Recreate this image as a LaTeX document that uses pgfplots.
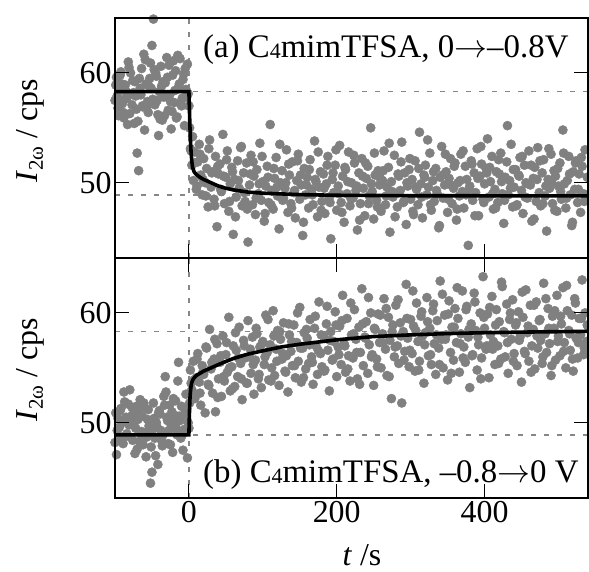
\RequirePackage{fix-cm}
\documentclass[border=0pt]{standalone}
\usepackage{pgfplots}
\pgfplotsset{compat=1.18}
\usepackage{fontspec}
\setmainfont{Liberation Serif}

\definecolor{ptgray}{RGB}{128,128,128}
\definecolor{dashgray}{RGB}{135,135,135}

\newcommand{\bigf}{\fontsize{32}{36}\selectfont}
\newcommand{\labf}{\fontsize{33}{38}\selectfont}
\newcommand{\cfour}{C\raisebox{-1bp}{\fontsize{22}{24}\selectfont 4}}

\pgfplotsset{
  panel/.style={
    scale only axis,
    width=473bp, height=240bp,
    anchor=south west,
    xmin=-100, xmax=540,
    ymin=43.15, ymax=65,
    xtick={0,200,400},
    ytick={50,60},
    yticklabel pos=left,
    tick align=inside,
    major tick length=14bp,
    tick style={black, line width=1.1bp},
    axis line style={line width=1.2bp},
    tick label style={font=\bigf},
    /pgf/number format/assume math mode=true,
    clip=false,
    clip mode=individual,
    axis on top,
  },
  pts/.style={only marks, mark=*, mark size=4.6bp, color=ptgray},
  fit/.style={black, line width=3.6bp, no marks},
  guide/.style={dashgray, line width=1.6bp, dash pattern=on 5bp off 8bp, no marks},
}

\begin{document}
\begin{tikzpicture}
\useasboundingbox (0,0) rectangle (589bp,572bp);

% (a) 0 -> -0.8 V
\begin{axis}[panel, at={(115bp,314bp)}, xticklabels={}, xtick pos=left]
\addplot[guide] coordinates {(-100,58.3) (540,58.3)};
\addplot[guide] coordinates {(-100,48.9) (540,48.9)};
\addplot[guide] coordinates {(0,43.15) (0,65)};
\addplot[pts] table {
x y
-100 57.5
-98 59.6
-96 56.8
-94 58.4
-92 60.1
-90 57.2
-88 55.9
-86 58.9
-84 57.7
-82 61.0
-80 56.3
-78 58.1
-76 59.3
-74 55.4
-72 57.9
-70 52.7
-68 51.1
-66 58.6
-64 60.4
-62 56.9
-60 54.8
-58 59.0
-56 57.4
-54 58.8
-52 60.9
-50 62.5
-48 64.9
-46 57.1
-44 59.7
-42 56.2
-40 58.3
-38 60.6
-36 55.7
-34 57.8
-32 59.1
-30 61.4
-28 56.6
-26 58.0
-24 54.9
-22 59.8
-20 57.3
-18 60.2
-16 56.0
-14 58.7
-12 61.3
-10 57.0
-8 59.4
-6 55.2
-4 58.5
-2 60.8
-99 58.9
-95 56.1
-91 59.0
-87 57.6
-83 55.3
-79 60.0
-75 58.2
-71 56.7
-67 59.5
-63 57.0
-59 61.2
-55 56.4
-51 58.6
-47 60.3
-43 57.5
-39 55.8
-35 59.2
-31 57.9
-27 60.7
-23 56.5
-19 58.4
-15 61.6
-11 57.2
-7 59.9
-3 57.8
-97 57.9
-93 59.8
-89 56.4
-85 58.3
-81 60.5
-77 57.1
-73 59.2
-69 55.6
-65 58.0
-61 61.7
-57 56.9
-53 59.5
-49 57.6
-45 60.0
-41 54.3
-37 58.8
-33 56.1
-29 59.6
-25 57.4
-21 61.1
-17 55.9
-13 59.0
-9 57.7
-5 60.4
-1 58.1
0 57.0
1 55.0
3 52.9
5 54.2
2 53.1
4 51.6
6 50.2
8 52.8
10 49.4
12 51.9
14 53.5
16 50.7
18 48.9
20 52.2
22 50.0
24 51.3
26 47.8
28 53.9
30 49.6
32 51.0
34 48.5
36 52.4
38 46.0
40 50.8
42 51.7
44 49.2
46 54.4
48 48.1
50 50.5
52 52.9
54 47.4
56 49.9
58 51.4
60 45.3
62 50.3
64 48.7
66 52.0
68 49.5
70 53.2
72 47.9
74 50.9
76 48.3
78 51.8
80 44.6
82 49.8
84 52.5
86 48.0
88 50.6
90 47.1
92 51.2
94 49.0
96 53.6
98 48.4
100 50.1
102 46.5
104 49.7
106 51.5
108 48.2
110 55.3
112 49.3
114 47.6
116 50.4
118 52.3
120 48.8
122 45.8
124 50.0
126 51.1
128 48.6
130 49.5
132 53.0
134 47.3
136 50.7
138 48.1
140 51.9
142 49.1
144 46.8
146 50.2
148 52.6
150 48.5
152 49.8
154 45.2
156 51.3
158 48.9
160 50.5
162 47.7
164 52.1
166 49.4
168 48.0
170 53.8
172 50.1
174 46.9
176 49.6
178 51.0
180 48.3
182 50.8
184 47.2
186 49.9
188 52.4
190 48.7
192 44.9
194 50.3
196 49.1
198 51.6
200 47.5
202 49.7
204 53.4
206 48.2
208 50.6
210 46.4
212 51.2
214 49.0
216 52.8
218 47.9
220 50.0
222 48.6
224 51.8
226 49.3
228 45.7
230 50.9
232 48.1
234 52.2
236 49.5
238 47.0
240 50.4
242 51.5
244 48.8
246 55.0
248 49.2
250 46.7
252 50.7
254 48.4
256 51.1
258 49.8
260 47.4
262 50.2
264 52.9
266 48.0
268 49.6
270 51.4
272 45.5
274 50.1
276 48.7
278 52.5
280 49.0
282 47.8
284 50.6
286 49.3
288 53.7
290 48.2
292 50.9
294 46.2
296 49.7
298 51.2
300 48.5
302 50.3
304 47.1
306 52.0
308 49.4
310 48.0
312 54.6
314 49.9
316 46.8
318 50.7
320 51.6
322 48.9
324 49.6
326 52.7
328 47.5
330 50.2
332 48.3
334 51.3
336 49.0
338 45.9
340 50.5
342 53.3
344 48.6
346 49.8
348 51.0
350 47.3
352 50.4
354 52.2
356 48.1
358 49.5
360 51.8
362 46.6
364 50.0
366 48.8
368 52.6
370 49.2
372 47.7
374 51.5
376 50.3
378 44.3
380 49.7
382 52.0
384 48.4
386 50.9
388 49.1
390 53.1
392 47.0
394 50.6
396 51.7
398 48.5
400 49.9
402 51.3
404 54.0
406 48.7
408 50.1
410 52.4
412 47.6
414 49.4
416 51.0
418 48.2
420 50.8
422 52.7
424 49.0
426 46.3
428 50.5
430 51.9
432 48.9
434 50.2
436 53.5
438 47.8
440 49.6
442 51.2
444 48.0
446 50.7
448 52.3
450 49.3
452 47.2
454 51.6
456 50.0
458 48.6
460 52.9
462 49.8
464 46.5
466 50.4
468 51.4
470 48.3
472 53.2
474 49.1
476 47.9
478 50.9
480 52.1
482 48.8
484 45.6
486 50.3
488 49.5
490 52.6
492 48.1
494 51.1
496 50.6
498 47.4
500 49.7
502 51.8
504 48.5
506 54.8
508 49.9
510 47.7
512 50.2
514 52.4
516 48.9
518 46.1
520 51.0
522 49.4
524 52.0
526 48.2
528 50.8
530 47.3
532 51.5
534 49.0
536 53.0
538 48.7
540 50.5
7 51.8
11 49.7
15 52.6
19 50.3
23 48.8
27 53.1
31 50.9
35 47.9
39 51.5
43 49.4
47 50.6
51 52.1
55 48.3
59 51.0
63 46.9
67 50.2
71 53.3
75 49.1
79 47.6
83 50.8
87 51.9
91 48.6
95 49.9
99 52.4
103 47.2
107 50.5
111 48.0
115 51.3
119 49.6
123 53.5
127 48.4
131 50.0
135 51.7
139 47.7
143 49.3
147 52.0
151 50.7
155 46.4
159 49.8
163 51.2
167 48.9
171 50.3
175 52.8
179 47.5
183 49.5
187 51.6
191 48.2
195 50.9
199 53.0
203 49.0
207 47.3
211 51.4
215 50.1
219 48.6
223 52.5
227 49.7
231 46.6
235 50.6
239 51.8
243 48.1
247 49.9
251 52.7
255 47.8
259 50.4
263 51.1
267 48.8
271 53.6
275 49.2
279 46.9
283 50.8
287 51.9
291 48.3
295 50.0
299 52.2
303 47.4
307 49.6
311 51.3
315 48.7
319 50.5
323 53.9
327 48.0
331 51.0
335 49.3
339 46.1
343 50.7
347 52.6
351 48.5
355 49.8
359 51.5
363 47.6
367 50.2
371 52.9
375 48.9
379 49.4
383 51.7
387 47.0
391 50.4
395 53.3
399 48.2
403 50.9
407 51.4
411 49.0
415 47.7
419 52.1
423 50.1
427 48.4
431 55.2
435 49.5
439 51.2
443 47.9
447 50.6
451 52.4
455 48.7
459 49.9
463 51.6
467 46.7
471 50.3
475 52.0
479 48.1
483 49.7
487 53.1
491 50.0
495 47.5
499 51.3
503 49.2
507 52.7
511 48.6
515 50.8
519 46.4
523 51.8
527 49.4
531 52.3
535 48.3
539 50.5
};
\addplot[fit] coordinates {(-100,58.3) (0,58.3) (0.5,57.2) (1,56.0) (1.5,54.9) (2,54.0) (3,52.7) (4,51.9) (5,51.4) (7,51.0) (10,50.75) (15,50.5) (20,50.3) (30,50.0) (40,49.7) (50,49.5) (60,49.35) (80,49.15) (100,49.05) (150,48.92) (200,48.86) (300,48.82) (540,48.8)};
\end{axis}

% (b) -0.8 -> 0 V
\begin{axis}[panel, at={(115bp,74bp)}]
\addplot[guide] coordinates {(-100,58.3) (540,58.3)};
\addplot[guide] coordinates {(-100,48.9) (540,48.9)};
\addplot[guide] coordinates {(0,43.15) (0,65)};
\addplot[pts] table {
x y
-100 48.2
-98 47.1
-96 50.4
-94 49.6
-92 51.3
-90 48.7
-88 52.8
-86 50.1
-84 49.0
-82 51.7
-80 53.0
-78 50.6
-76 48.4
-74 51.0
-72 49.5
-70 47.6
-68 50.9
-66 52.1
-64 49.2
-62 48.0
-60 51.4
-58 46.9
-56 50.3
-54 49.7
-52 44.5
-50 45.5
-48 51.8
-46 48.6
-44 50.0
-42 46.2
-40 51.1
-38 49.3
-36 47.9
-34 52.4
-32 54.2
-30 50.5
-28 48.1
-26 51.6
-24 49.8
-22 47.3
-20 50.7
-18 52.0
-16 48.9
-14 55.5
-12 50.2
-10 51.5
-8 47.5
-6 49.4
-4 52.6
-2 46.8
-99 50.9
-95 48.5
-91 50.0
-87 51.9
-83 48.8
-79 50.2
-75 49.9
-71 51.5
-67 48.3
-63 50.6
-59 49.1
-55 51.2
-51 47.8
-47 50.4
-43 49.6
-39 50.8
-35 48.9
-31 52.8
-27 49.3
-23 51.0
-19 50.1
-15 53.8
-11 48.6
-7 50.7
-3 51.3
-97 49.3
-93 51.1
-89 48.1
-85 50.5
-81 49.8
-77 51.4
-73 47.2
-69 50.3
-65 49.0
-61 51.8
-57 48.7
-53 50.0
-49 49.4
-45 47.0
-41 50.9
-37 48.4
-33 51.6
-29 50.2
-25 48.0
-21 52.2
-17 49.5
-13 50.6
-9 48.9
-5 51.2
-1 50.0
0 49.5
1 51.8
3 53.6
5 52.4
2 54.8
4 53.0
6 55.6
8 52.2
10 54.1
12 56.3
14 53.7
16 51.6
18 55.2
20 54.4
22 50.9
24 56.8
26 53.5
28 58.5
30 54.9
32 52.7
34 55.8
36 51.0
38 57.2
40 54.0
42 55.5
44 52.4
46 57.9
48 53.8
50 56.2
52 54.6
54 59.6
56 52.9
58 55.1
60 57.0
62 53.3
64 56.6
66 54.2
68 58.7
70 55.4
72 52.1
74 57.5
76 55.9
78 53.6
80 59.3
82 56.0
84 54.5
86 57.8
88 52.6
90 55.7
92 58.1
94 54.0
96 56.9
98 53.2
100 57.4
102 55.3
104 59.8
106 56.4
108 53.9
110 57.1
112 55.0
114 60.2
116 54.3
118 56.7
120 58.4
122 53.4
124 57.6
126 55.8
128 59.1
130 54.7
132 56.1
134 52.8
136 58.0
138 56.5
140 55.2
142 58.9
144 54.1
146 57.3
148 55.6
150 60.5
152 53.7
154 56.8
156 58.2
158 54.9
160 57.7
162 55.4
164 59.4
166 56.0
168 53.5
170 58.6
172 57.0
174 54.4
176 61.0
178 56.3
180 55.1
182 57.9
184 54.8
186 59.0
188 56.6
190 52.9
192 58.3
194 55.7
196 57.4
198 60.1
200 54.2
202 56.9
204 58.8
206 55.3
208 61.6
210 57.2
212 54.6
214 59.5
216 56.1
218 53.8
220 58.0
222 55.9
224 60.3
226 57.6
228 54.0
230 58.7
232 56.4
234 62.2
236 55.2
238 57.8
240 59.2
242 54.5
244 57.1
246 60.0
248 56.2
250 53.4
252 58.5
254 55.8
256 59.9
258 57.3
260 55.0
262 58.1
264 61.3
266 56.7
268 54.3
270 59.6
272 57.5
274 52.2
276 58.9
278 56.0
280 60.7
282 57.0
284 55.4
286 59.1
288 51.8
290 58.3
292 56.5
294 62.6
296 57.7
298 55.1
300 59.4
302 56.3
304 58.8
306 54.7
308 60.9
310 57.4
312 55.6
314 59.7
316 57.9
318 53.6
320 58.2
322 61.4
324 56.1
326 58.6
328 55.3
330 60.2
332 57.2
334 54.4
336 59.3
338 56.8
340 62.9
342 57.6
344 55.0
346 59.8
348 58.0
350 53.9
352 61.1
354 56.4
356 58.7
358 55.7
360 60.4
362 57.3
364 59.5
366 54.6
368 58.1
370 62.0
372 56.9
374 55.5
376 60.6
378 57.8
380 53.2
382 59.0
384 56.2
386 61.8
388 58.4
390 54.8
392 57.1
394 60.0
396 55.9
398 63.3
400 58.6
402 56.7
404 59.9
406 54.1
408 58.0
410 61.5
412 57.4
414 55.3
416 60.3
418 57.0
420 59.2
422 55.8
424 62.4
426 58.3
428 56.0
430 60.8
432 54.5
434 59.4
436 57.6
438 61.2
440 56.3
442 58.9
444 55.2
446 60.1
448 57.8
450 53.7
452 59.6
454 56.5
456 62.1
458 58.2
460 55.6
462 60.7
464 57.0
466 58.5
468 54.9
470 61.0
472 56.8
474 59.3
476 57.5
478 55.4
480 62.7
482 58.1
484 56.4
486 60.4
488 57.2
490 54.3
492 59.7
494 58.6
496 55.7
498 61.6
500 57.9
502 56.1
504 59.0
506 62.3
508 57.3
510 55.0
512 60.2
514 58.4
516 56.6
518 59.8
520 54.7
522 61.3
524 57.7
526 55.9
528 59.5
530 58.0
532 63.0
534 56.2
536 60.0
538 57.4
540 58.8
7 53.9
11 55.8
15 52.7
19 54.6
23 56.9
27 53.4
31 55.5
35 57.6
39 52.3
43 56.1
47 54.2
51 57.3
55 55.0
59 53.1
63 58.2
67 55.9
71 54.0
75 57.0
79 53.6
83 56.7
87 55.3
91 58.6
95 54.4
99 57.2
103 56.0
107 59.4
111 53.8
115 57.9
119 55.6
123 58.3
127 56.3
131 54.6
135 59.0
139 57.4
143 55.2
147 60.0
151 56.8
155 54.1
159 58.5
163 57.1
167 55.5
171 59.7
175 56.6
179 58.0
183 54.7
187 60.6
191 57.5
195 55.8
199 58.9
203 56.2
207 59.3
211 57.0
215 54.9
219 60.9
223 58.1
227 56.4
231 53.5
235 59.0
239 57.7
243 61.4
247 56.0
251 58.6
255 55.1
259 59.8
263 57.3
267 60.4
271 54.2
275 58.3
279 56.9
283 61.2
287 57.9
291 55.7
295 59.5
299 56.6
303 62.0
307 58.4
311 54.8
315 60.1
319 57.1
323 59.2
327 56.2
331 60.8
335 58.0
339 55.3
343 61.7
347 57.6
351 59.9
355 54.5
359 58.7
363 62.3
367 57.2
371 55.9
375 60.3
379 58.5
383 56.1
387 61.0
391 57.8
395 54.0
399 59.6
403 57.0
407 60.5
411 56.7
415 58.9
419 55.4
423 62.8
427 58.2
431 57.3
435 60.0
439 55.6
443 59.1
447 57.5
451 61.9
455 56.3
459 58.8
463 54.6
467 60.7
471 57.9
475 59.4
479 56.0
483 61.3
487 58.6
491 55.2
495 60.2
499 57.4
503 59.7
507 56.5
511 62.5
515 58.1
519 55.8
523 60.9
527 57.3
531 59.5
535 56.8
539 58.9
};
\addplot[fit] coordinates {(-100,48.9) (0,48.9) (0.5,50.4) (1,51.5) (1.5,52.3) (2,52.8) (3,53.4) (4,53.7) (6,54.0) (10,54.3) (20,54.7) (30,55.0) (40,55.3) (60,55.85) (80,56.25) (100,56.55) (125,56.9) (150,57.15) (200,57.55) (250,57.85) (300,58.0) (350,58.12) (400,58.2) (470,58.27) (540,58.32)};
\end{axis}

% labels
\node[anchor=west, font=\labf, inner sep=0pt] at (203bp,522bp) {(a) \cfour mimTFSA, 0$\rightarrow$–0.8V};
\node[anchor=west, font=\labf, inner sep=0pt] at (203bp,97bp) {(b) \cfour mimTFSA, –0.8$\rightarrow$0 V};
\node[rotate=90, font=\bigf, inner sep=0pt] at (30bp,441bp) {\textit{I}\raisebox{-0.18em}{\fontsize{21}{24}\selectfont 2ω} / cps};
\node[rotate=90, font=\bigf, inner sep=0pt] at (30bp,202bp) {\textit{I}\raisebox{-0.18em}{\fontsize{21}{24}\selectfont 2ω} / cps};
\node[font=\bigf, inner sep=0pt] at (362bp,17bp) {\textit{t} /s};
\end{tikzpicture}
\end{document}
